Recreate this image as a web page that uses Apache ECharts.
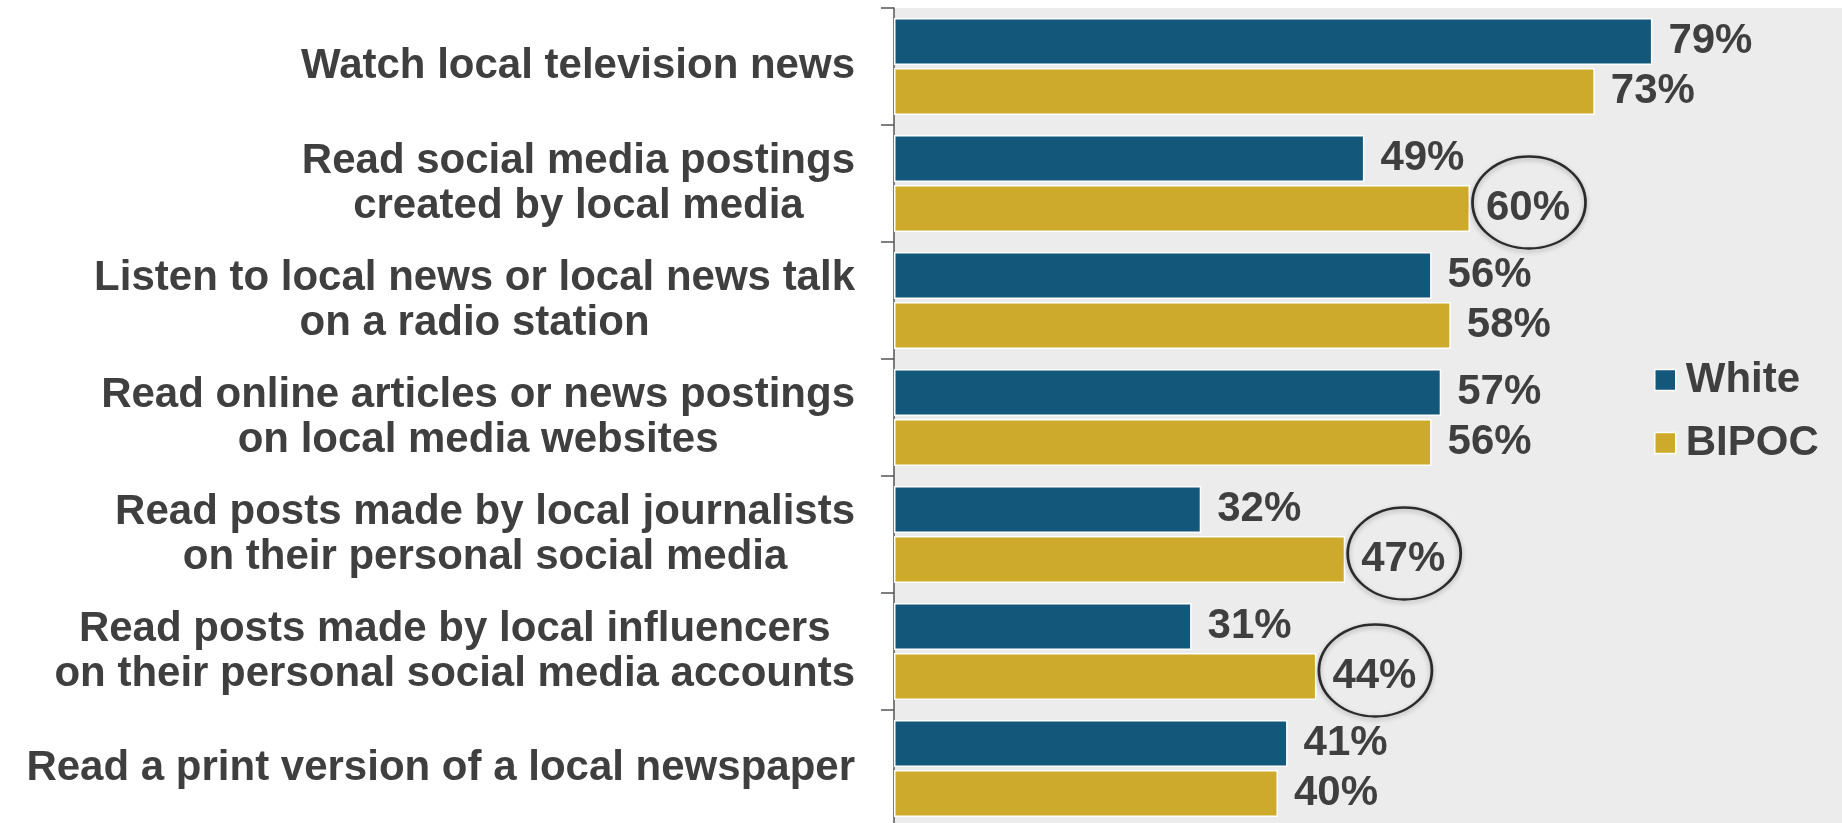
<!DOCTYPE html>
<html>
<head>
<meta charset="utf-8">
<script src="https://cdn.jsdelivr.net/npm/echarts@6/dist/echarts.min.js"></script>
<style>
html,body{margin:0;padding:0;background:#ffffff;}
#chart{width:1842px;height:823px;}
</style>
</head>
<body>
<div id="chart"></div>
<script>
const categories = [
  'Watch local television news',
  'Read social media postings\ncreated by local media',
  'Listen to local news or local news talk\non a radio station',
  'Read online articles or news postings\non local media websites',
  'Read posts made by local journalists\non their personal social media',
  'Read posts made by local influencers\non their personal social media accounts',
  'Read a print version of a local newspaper'
];
const seriesNames = ['White', 'BIPOC'];
const whiteValues = [79, 49, 56, 57, 32, 31, 41];
const bipocValues = [73, 60, 58, 56, 47, 44, 40];
const circledIndexes = [1, 4, 5];

const textColor = '#3F3F3F';
const font = 'Liberation Sans, Arial, sans-serif';

const chart = echarts.init(document.getElementById('chart'), null, {renderer: 'canvas'});

const valueLabel = {
  show: true,
  position: 'right',
  distance: 16,
  formatter: '{c}%',
  fontSize: 42,
  fontWeight: 'bold',
  fontFamily: font,
  color: textColor
};

chart.setOption({
  animation: false,
  backgroundColor: '#ffffff',
  grid: {
    left: 894,
    top: 8,
    width: 960,
    height: 819,
    show: true,
    backgroundColor: '#ECECEC',
    borderWidth: 0,
    containLabel: false,
    outerBoundsMode: 'none'
  },
  legend: {
    data: seriesNames,
    orient: 'vertical',
    left: 1654,
    top: 359,
    padding: 0,
    itemWidth: 21,
    itemHeight: 21,
    itemGap: 21,
    icon: 'rect',
    itemStyle: {borderColor: '#ffffff', borderWidth: 1.5},
    textStyle: {
      fontSize: 42,
      fontWeight: 'bold',
      fontFamily: font,
      color: textColor,
      lineHeight: 42,
      padding: [0, 0, 0, 5]
    }
  },
  xAxis: {
    type: 'value',
    min: 0,
    max: 100,
    show: false,
    splitLine: {show: false}
  },
  yAxis: {
    type: 'category',
    data: categories,
    inverse: true,
    axisLine: {show: true, lineStyle: {color: '#555555', width: 1.5}},
    axisTick: {show: true, length: 13, lineStyle: {color: '#555555', width: 1.5}},
    axisLabel: {
      margin: 39,
      formatter: function (value) {
        return value.split('\n').map(function (l) { return '{c|' + l + '}'; }).join('\n');
      },
      rich: {
        c: {
          align: 'center',
          fontSize: 42,
          fontWeight: 'bold',
          fontFamily: font,
          color: textColor,
          lineHeight: 45
        }
      }
    }
  },
  series: [
    {
      name: seriesNames[0],
      type: 'bar',
      data: whiteValues,
      barWidth: 47,
      barGap: '6%',
      itemStyle: {color: '#13577B', borderColor: '#ffffff', borderWidth: 1.5},
      label: valueLabel
    },
    {
      name: seriesNames[1],
      type: 'bar',
      data: bipocValues,
      barWidth: 47,
      barGap: '6%',
      itemStyle: {color: '#CDAA2B', borderColor: '#ffffff', borderWidth: 1.5},
      label: valueLabel
    },
    {
      name: 'highlight',
      type: 'scatter',
      silent: true,
      z: 5,
      data: circledIndexes.map(function (i) { return [bipocValues[i], i]; }),
      symbol: 'circle',
      symbolSize: [113, 92],
      symbolOffset: [59, 19],
      itemStyle: {
        color: 'rgba(0,0,0,0)',
        borderColor: '#000000',
        borderWidth: 2.5,
        shadowColor: 'rgba(0,0,0,0.35)',
        shadowBlur: 5,
        shadowOffsetY: 2
      }
    }
  ]
});
</script>
</body>
</html>
